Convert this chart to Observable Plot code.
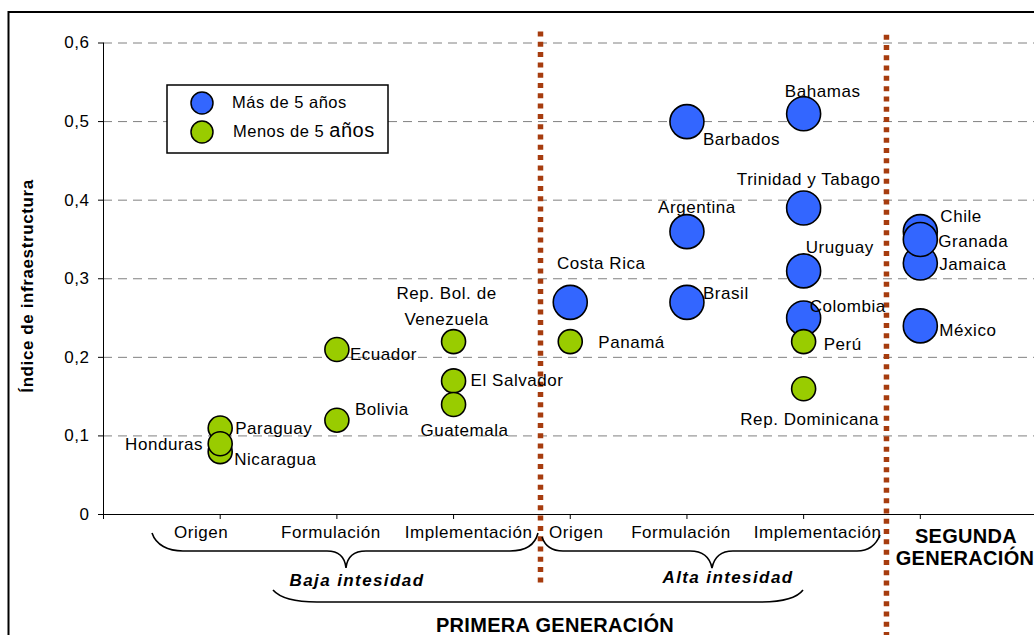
<!DOCTYPE html>
<html>
<head>
<meta charset="utf-8">
<script src="https://cdn.jsdelivr.net/npm/d3@7"></script>
<script src="https://cdn.jsdelivr.net/npm/@observablehq/plot@0.6"></script>
<style>
  body { margin: 0; background: #fff; }
  #chart { width: 1034px; height: 635px; overflow: hidden; position: relative; }
</style>
</head>
<body>
<div id="chart"></div>
<script>
// Stage categories along the x axis (1–7)
const stagePositions = [1, 2, 3, 4, 5, 6];
const stageNames = ["Origen", "Formulación", "Implementación", "Origen", "Formulación", "Implementación"];

// Infrastructure index — reforms more than 5 years old
const olderCountries = ["Costa Rica", "Barbados", "Argentina", "Brasil", "Bahamas", "Trinidad y Tabago", "Uruguay", "Colombia", "Chile", "Jamaica", "Granada", "México"];
const olderStage = [4, 5, 5, 5, 6, 6, 6, 6, 7, 7, 7, 7];
const olderIndex = [0.27, 0.50, 0.36, 0.27, 0.51, 0.39, 0.31, 0.25, 0.36, 0.32, 0.35, 0.24];

// Infrastructure index — reforms less than 5 years old
const newerCountries = ["Paraguay", "Nicaragua", "Honduras", "Ecuador", "Bolivia", "Rep. Bol. de Venezuela", "El Salvador", "Guatemala", "Panamá", "Perú", "Rep. Dominicana"];
const newerStage = [1, 1, 1, 2, 2, 3, 3, 3, 4, 6, 6];
const newerIndex = [0.11, 0.08, 0.09, 0.21, 0.12, 0.22, 0.17, 0.14, 0.22, 0.22, 0.16];

const yTicks = [0, 0.1, 0.2, 0.3, 0.4, 0.5, 0.6];

// Label placement per country: [textAnchor, dx, dy]
const labelPlacement = {
  "Paraguay": ["start", 15, -2],
  "Nicaragua": ["start", 14, 5],
  "Honduras": ["end", -17, -2],
  "Ecuador": ["start", 13, 2],
  "Bolivia": ["start", 18, -13],
  "Rep. Bol. de Venezuela": ["middle", -7, -38],
  "El Salvador": ["start", 17, -3],
  "Guatemala": ["middle", 11, 23],
  "Panamá": ["start", 28, -2],
  "Perú": ["start", 20, 0],
  "Rep. Dominicana": ["middle", 6, 28],
  "Costa Rica": ["middle", 31, -41],
  "Barbados": ["start", 16, 15],
  "Argentina": ["middle", 10, -27],
  "Brasil": ["start", 16, -11],
  "Bahamas": ["middle", 19, -25],
  "Trinidad y Tabago": ["middle", 5, -31],
  "Uruguay": ["start", 2, -26],
  "Colombia": ["start", 6, -14],
  "Chile": ["start", 20, -18],
  "Jamaica": ["start", 19, -1],
  "Granada": ["start", 18, -1],
  "México": ["start", 19, 2]
};
// Horizontal nudges of the stage names under their ticks
const stageNudge = [-19, -6, 15, 6, -6, 14];

// Dotted dividers between the reform generations / intensities
const dividers = [
  {x: 3.745, top: 0.614, bottom: -0.093},
  {x: 6.71, top: 0.61, bottom: -0.16}
];

const older = olderCountries.map((name, i) => ({name, stage: olderStage[i], value: olderIndex[i]}));
const newer = newerCountries.map((name, i) => ({name, stage: newerStage[i], value: newerIndex[i]}));
const stages = stageNames.map((label, i) => ({label, stage: stagePositions[i], nudge: stageNudge[i]}));

const FONT = "'Liberation Sans', Arial, Helvetica, sans-serif";
const BLUE = "#3366ff";
const GREEN = "#99cc00";
const DOT_BROWN = "#a63c0e";

const fmt = d => d === 0 ? "0" : d.toFixed(1).replace(".", ",");

const labelMarks = [...older, ...newer].map(d => {
  const [anchor, dx, dy] = labelPlacement[d.name];
  return Plot.text([d], {
    x: "stage", y: "value",
    text: v => v.name.replace("de Venezuela", "de\nVenezuela"),
    textAnchor: anchor, dx, dy, lineHeight: 1.5, fill: "#000"
  });
});

const stageMarks = stages.map(s =>
  Plot.text([s], {x: "stage", y: () => 0, text: "label", dx: s.nudge, dy: 18.5, fill: "#000"})
);

const plot = Plot.plot({
  width: 1034,
  height: 635,
  marginLeft: 103,
  marginRight: 0,
  marginTop: 42.5,
  marginBottom: 121,
  x: {domain: [0, 8], range: [103, 1036.5], axis: null},
  y: {domain: [0, 0.6], range: [514, 42.5], axis: null},
  style: {fontFamily: FONT, fontSize: "17px", letterSpacing: "0.55px", color: "#000", background: "#fff", overflow: "visible"},
  marks: [
    Plot.gridY({ticks: yTicks.slice(1), stroke: "#808080", strokeOpacity: 1, strokeDasharray: "9,6"}),
    Plot.ruleX([0], {stroke: "#000", strokeWidth: 1}),
    Plot.ruleY([0], {stroke: "#000", strokeWidth: 1}),
    Plot.axisY({ticks: yTicks, tickSize: 5, tickPadding: 9, tickFormat: fmt, label: null, stroke: "#000"}),
    Plot.axisX({ticks: [0, 1, 2, 3, 4, 5, 6, 7], tickSize: 5, tickFormat: () => "", label: null, stroke: "#000"}),
    Plot.ruleX(dividers, {x: "x", y1: "top", y2: "bottom", stroke: DOT_BROWN, strokeWidth: 5.5, strokeDasharray: "5,5.3"}),
    Plot.dot(older, {x: "stage", y: "value", r: 17, fill: BLUE, stroke: "#000", strokeWidth: 1.6}),
    Plot.dot(newer, {x: "stage", y: "value", r: 12, fill: GREEN, stroke: "#000", strokeWidth: 1.6}),
    ...labelMarks,
    ...stageMarks
  ]
});

document.getElementById("chart").appendChild(plot);

// Annotations: frame, braces, group titles, axis title and legend
const svg = d3.select(plot);

svg.append("rect")
  .attr("x", 8.5).attr("y", 12).attr("width", 1100).attr("height", 700)
  .attr("fill", "none").attr("stroke", "#000").attr("stroke-width", 2);

const brace = svg.append("g").attr("fill", "none").attr("stroke", "#000").attr("stroke-width", 1.6);
// Baja intensidad brace (stages 1–3)
brace.append("path").attr("d",
  "M152,533 C156,545 168,551 183,551 L327,551 C340,551 345,558 346,568 C347,558 352,551 366,551 L510,551 C526,551 535,545 538,533");
// Alta intensidad brace (stages 4–6)
brace.append("path").attr("d",
  "M542,537 C545,546 552,551 563,551 L690,551 C703,551 710,558 712,568 C714,558 720,551 733,551 L857,551 C868,551 876,545 880,535");
// Primera generación bracket
brace.append("path").attr("d",
  "M273,590 C280,598 296,602 317,602 L760,602 C782,602 797,598 803,590");

const note = (x, y, txt, opts = {}) => svg.append("text")
  .attr("x", x).attr("y", y)
  .attr("text-anchor", opts.anchor || "middle")
  .attr("font-family", FONT)
  .attr("font-size", opts.size || 20)
  .attr("font-weight", opts.weight || "bold")
  .attr("font-style", opts.style || "normal")
  .style("letter-spacing", (opts.spacing ?? 0.3) + "px")
  .attr("fill", "#000")
  .text(txt);

note(357, 586, "Baja intesidad", {size: 17, style: "italic", spacing: 1.4});
note(728, 583, "Alta intesidad", {size: 17, style: "italic", spacing: 1.4});
note(555, 632, "PRIMERA GENERACIÓN");
note(966, 542.5, "SEGUNDA");
note(965, 565, "GENERACIÓN");

svg.append("text")
  .attr("transform", "translate(33,286) rotate(-90)")
  .attr("text-anchor", "middle")
  .attr("font-family", FONT).attr("font-size", 17).attr("font-weight", "bold")
  .style("letter-spacing", "0.6px")
  .attr("fill", "#000")
  .text("Índice de infraestructura");

// Legend
const legend = svg.append("g");
legend.append("rect").attr("x", 167).attr("y", 85).attr("width", 221).attr("height", 68)
  .attr("fill", "#fff").attr("stroke", "#000").attr("stroke-width", 1.5);
legend.append("circle").attr("cx", 202).attr("cy", 103).attr("r", 11)
  .attr("fill", BLUE).attr("stroke", "#000").attr("stroke-width", 1.5);
legend.append("circle").attr("cx", 202).attr("cy", 132).attr("r", 11)
  .attr("fill", GREEN).attr("stroke", "#000").attr("stroke-width", 1.5);
legend.append("text").attr("x", 232).attr("y", 107.5).attr("text-anchor", "start")
  .attr("font-family", FONT).attr("font-size", 16.5).style("letter-spacing", "0.5px").attr("fill", "#000")
  .text("Más de 5 años");
const l2 = legend.append("text").attr("x", 233).attr("y", 136.5).attr("text-anchor", "start")
  .attr("font-family", FONT).attr("font-size", 16.5).style("letter-spacing", "0.5px").attr("fill", "#000");
l2.append("tspan").text("Menos de 5 ");
l2.append("tspan").attr("font-size", 20).text("años");
</script>
</body>
</html>
